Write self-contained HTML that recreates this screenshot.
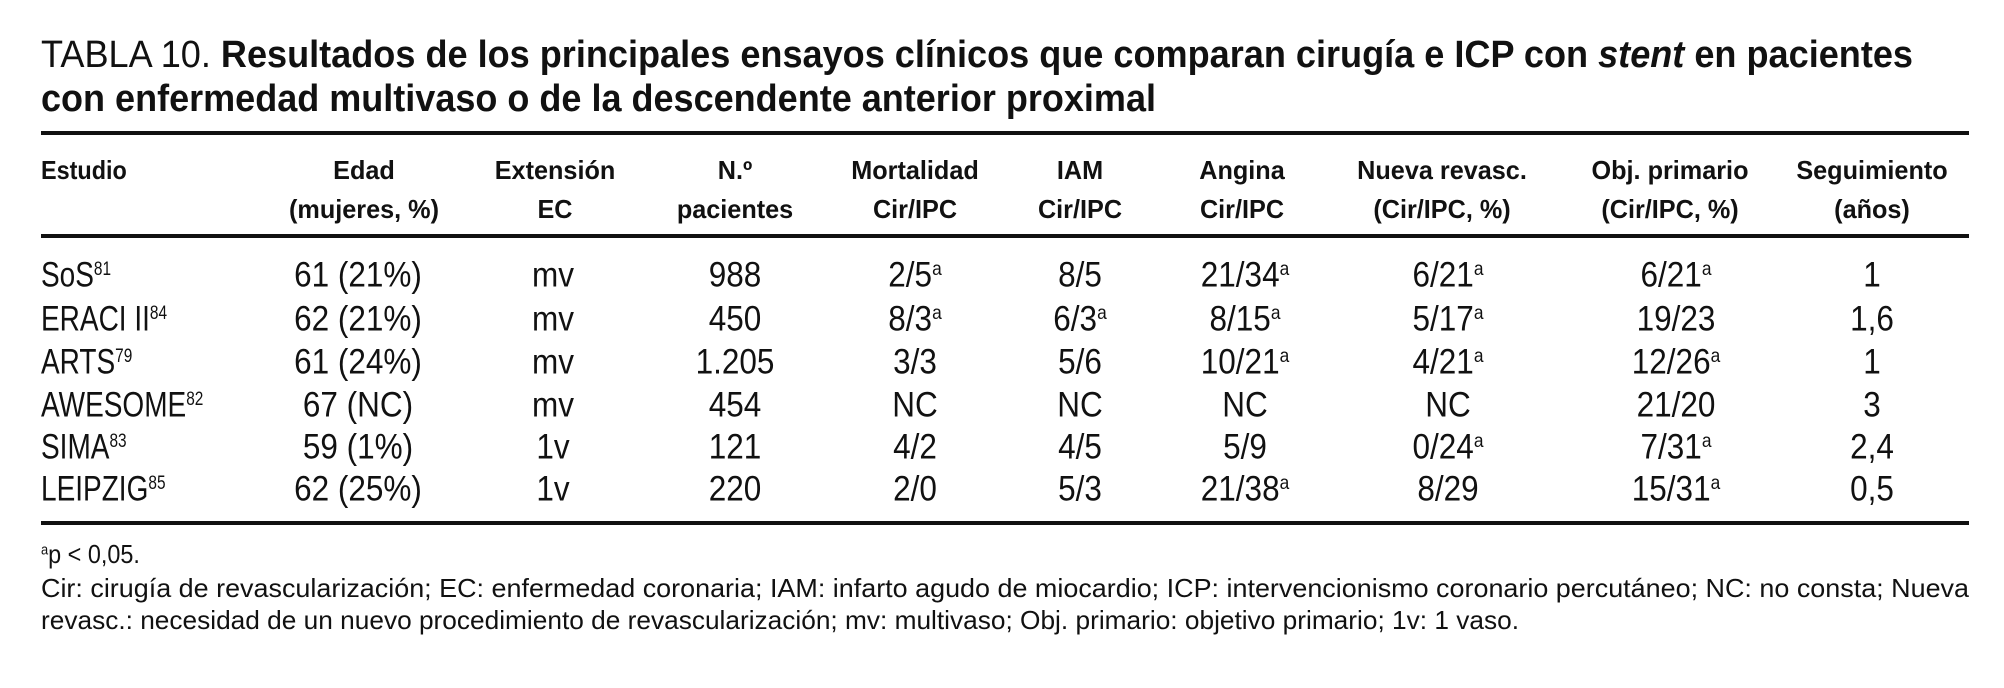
<!DOCTYPE html>
<html><head><meta charset="utf-8">
<style>
body{margin:0;width:2004px;height:688px;background:#fff;overflow:hidden;position:relative;color:#111;font-family:"Liberation Sans Narrow","Liberation Sans",sans-serif;}
.a{position:absolute;white-space:nowrap;line-height:1;}
.fit{transform-origin:0 50%;}
.rule{position:absolute;left:41px;width:1928px;height:4px;background:#111;}
.h{font-weight:bold;font-size:26px;transform:translateX(-50%) scaleX(0.97);}
.c{font-size:35px;transform:translate(-50%,-50%) scaleX(0.9);}
.l{font-size:35px;transform:translateY(-50%) scaleX(0.8);transform-origin:0 50%;}
sup{font-size:0.55em;vertical-align:0.6em;line-height:0;}
.fn{font-size:26px;}
</style></head><body>
<div class="a fit" data-w="1872" style="left:41px;top:36px;font-size:38px;"><span style="font-weight:normal">TABLA 10. </span><b>Resultados de los principales ensayos clínicos que comparan cirugía e ICP con <i>stent</i> en pacientes</b></div>
<div class="a fit" data-w="1115" style="left:41px;top:80px;font-size:38px;font-weight:bold;">con enfermedad multivaso o de la descendente anterior proximal</div>

<div class="rule" style="top:131px"></div>
<div class="rule" style="top:234px"></div>
<div class="rule" style="top:521px"></div>

<div class="a" style="left:41px;top:157px;font-size:26px;font-weight:bold;transform:scaleX(0.9);transform-origin:0 0;">Estudio</div>
<div id="heads"></div>

<div id="rows"></div>

<div class="a fn" style="left:41px;top:541px;transform:scaleX(0.9);transform-origin:0 0;"><sup>a</sup>p &lt; 0,05.</div>
<div class="a fn fit" data-w="1928" style="left:41px;top:575px;">Cir: cirugía de revascularización; EC: enfermedad coronaria; IAM: infarto agudo de miocardio; ICP: intervencionismo coronario percutáneo; NC: no consta; Nueva</div>
<div class="a fn fit" data-w="1478" style="left:41px;top:607px;">revasc.: necesidad de un nuevo procedimiento de revascularización; mv: multivaso; Obj. primario: objetivo primario; 1v: 1 vaso.</div>

<script>
const studies=["SoS|81","ERACI II|84","ARTS|79","AWESOME|82","SIMA|83","LEIPZIG|85"];
const edad=["61 (21%)","62 (21%)","61 (24%)","67 (NC)","59 (1%)","62 (25%)"];
const ext=["mv","mv","mv","mv","1v","1v"];
const npac=["988","450","1.205","454","121","220"];
const mort=["2/5^","8/3^","3/3","NC","4/2","2/0"];
const iam=["8/5","6/3^","5/6","NC","4/5","5/3"];
const angina=["21/34^","8/15^","10/21^","NC","5/9","21/38^"];
const nueva=["6/21^","5/17^","4/21^","NC","0/24^","8/29"];
const obj=["6/21^","19/23","12/26^","21/20","7/31^","15/31^"];
const seg=["1","1,6","1","3","2,4","0,5"];
const headers=[["Edad","(mujeres, %)",364,"edad"],["Extensión","EC",555,"extension"],["N.º","pacientes",735,"n-pacientes"],["Mortalidad","Cir/IPC",915,"mortalidad"],["IAM","Cir/IPC",1080,"iam"],["Angina","Cir/IPC",1242,"angina"],["Nueva revasc.","(Cir/IPC, %)",1442,"nueva-revasc"],["Obj. primario","(Cir/IPC, %)",1670,"obj-primario"],["Seguimiento","(años)",1872,"seguimiento"]];
const rowY=[275,319,362,405,447,489];
const cols=[[edad,358,"edad"],[ext,553,"extension"],[npac,735,"n-pacientes"],[mort,915,"mortalidad"],[iam,1080,"iam"],[angina,1245,"angina"],[nueva,1448,"nueva-revasc"],[obj,1676,"obj-primario"],[seg,1872,"seguimiento"]];
const hh=document.getElementById('heads');
headers.forEach(([t1,t2,x,nm])=>{
  [[t1,157],[t2,196]].forEach(([t,y],k)=>{
    const e=document.createElement('div');
    e.className='a h';
    
    
    e.style.left=x+'px';e.style.top=y+'px';
    e.textContent=t;
    hh.appendChild(e);
  });
});
const host=document.getElementById('rows');
function fmt(s){return s.endsWith('^')?s.slice(0,-1)+'<sup>a</sup>':s;}
studies.forEach((s,i)=>{
  const [n,r]=s.split('|');
  const d=document.createElement('div');
  d.className='a l';
  
  
  d.style.left='41px';d.style.top=rowY[i]+'px';
  d.innerHTML=n+'<sup>'+r+'</sup>';
  host.appendChild(d);
  cols.forEach(([arr,x,nm])=>{
    const e=document.createElement('div');
    e.className='a c';
    
    
    e.style.left=x+'px';e.style.top=rowY[i]+'px';
    e.innerHTML=fmt(arr[i]);
    host.appendChild(e);
  });
});
document.querySelectorAll('.fit').forEach(el=>{
  const w=+el.dataset.w;const cw=el.getBoundingClientRect().width;
  if(cw>0)el.style.transform='scaleX('+(w/cw)+')';
});
</script>
</body></html>
